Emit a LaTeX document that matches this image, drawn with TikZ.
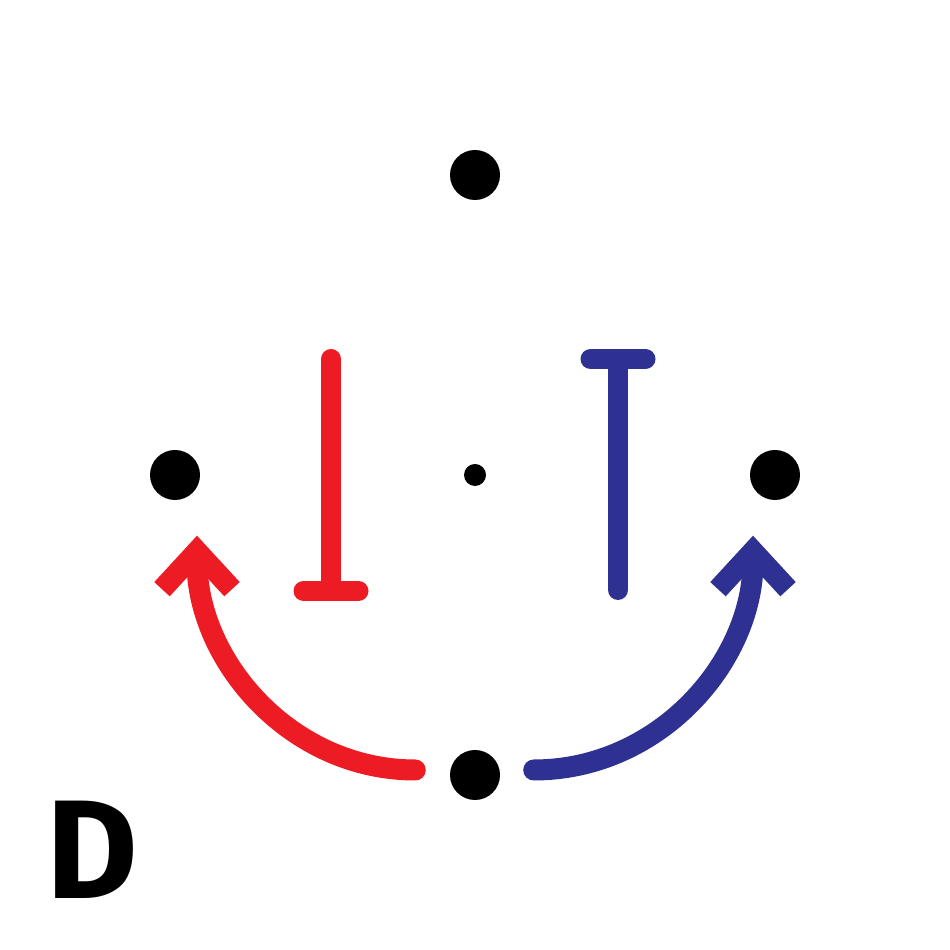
\documentclass[tikz,border=0pt]{standalone}
\usepackage{fontspec}
\newfontfamily\tagfont{Fira Sans}
\usepackage{xcolor}
\usepackage{tikz}
\usetikzlibrary{arrows.meta,positioning}
\definecolor{actred}{HTML}{ED1C24}
\definecolor{actblue}{HTML}{2E3192}
\tikzset{
  sitedot/.style={circle,fill=black,inner sep=0pt,minimum size=5mm},
  hubdot/.style={circle,fill=black,inner sep=0pt,minimum size=2.2mm},
  actarrow/.style={line width=2.1mm,line cap=round,
    -{Straight Barb[sharp,length=3.8mm,width=7mm]}},
  blockline/.style={line width=2mm,line cap=round,-{Bar[round,width=5.5mm]}},
}
\begin{document}
\begin{tikzpicture}
\useasboundingbox (0,0) rectangle (9.5,9.5);
\node[sitedot] (top) at (4.75,7.75) {};
\node[sitedot] (left) at (1.75,4.75) {};
\node[sitedot] (right) at (7.75,4.75) {};
\node[sitedot] (bottom) at (4.75,1.75) {};
\node[hubdot] (hub) at (4.75,4.75) {};
% inhibition bars
\coordinate (redtop) at (3.31,5.91);
\coordinate (redend) at (3.31,3.49);
\coordinate (bluebot) at (6.18,3.60);
\coordinate (blueend) at (6.18,6.01);
\draw[blockline,actred] (redtop) -- (redend);
\draw[blockline,actblue] (bluebot) -- (blueend);
% activation arcs
\draw[actarrow,actred] ([xshift=-3.4mm,yshift=0.5mm]bottom.west)
  to[out=180,in=-90] ([xshift=2.2mm,yshift=-3.5mm]left.south);
\draw[actarrow,actblue] ([xshift=3.3mm,yshift=0.5mm]bottom.east)
  to[out=0,in=-90] ([xshift=-2.2mm,yshift=-3.5mm]right.south);
\node[font=\tagfont\bfseries\fontsize{40}{40}\selectfont] (tag) at (0.92,1.0) {D};
\end{tikzpicture}
\end{document}
